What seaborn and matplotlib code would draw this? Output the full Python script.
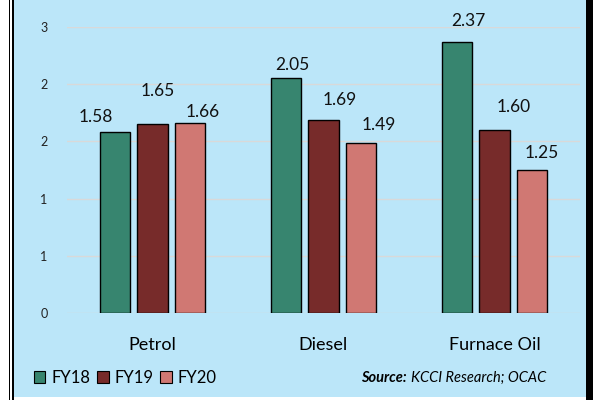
import pandas as pd
import matplotlib.pyplot as plt
import seaborn as sns
from matplotlib.patches import Rectangle, Patch

# datos
fuels = ['Petrol', 'Diesel', 'Furnace Oil']
years = ['FY18', 'FY19', 'FY20']
fy18 = [1.58, 2.05, 2.37]
fy19 = [1.65, 1.69, 1.60]
fy20 = [1.66, 1.49, 1.25]
ytick_vals = [0, 0.5, 1.0, 1.5, 2.0, 2.5]
ytick_labels = ['0', '1', '1', '2', '2', '3']

colores = {'FY18': '#37856F', 'FY19': '#772B2A', 'FY20': '#D07873'}

# tabla larga para seaborn
df = pd.DataFrame({
    'Fuel': fuels * 3,
    'Year': ['FY18'] * 3 + ['FY19'] * 3 + ['FY20'] * 3,
    'Value': fy18 + fy19 + fy20,
})

# desplazamiento de las etiquetas (px) respecto a la parte superior de cada barra
label_dx = {'FY18': [-20, 6, 11], 'FY19': [5, 16, 19], 'FY20': [13, 18, 10]}
label_dy = {'FY18': [15, 13, 21], 'FY19': [33, 20, 23], 'FY20': [11, 18, 17]}

plt.rcParams['font.family'] = ['Lato', 'DejaVu Sans']

fig = plt.figure(figsize=(5.93, 4.0), dpi=100, facecolor='white')

# fondo azul y marco
fig.patches.append(Rectangle((14 / 593, 0.0075), 572 / 593, 1, transform=fig.transFigure,
                             facecolor='#BBE6F9', edgecolor='none', zorder=-10))
fig.patches.append(Rectangle((8.5 / 593, 0), 1.5 / 593, 1, transform=fig.transFigure,
                             facecolor='black', edgecolor='none', zorder=-9))
fig.patches.append(Rectangle((12 / 593, 0), 2 / 593, 1, transform=fig.transFigure,
                             facecolor='black', edgecolor='none', zorder=-9))
fig.patches.append(Rectangle((586 / 593, 0), 7 / 593, 1, transform=fig.transFigure,
                             facecolor='black', edgecolor='none', zorder=-9))

ax = fig.add_axes([67 / 593, 87 / 400, 513 / 593, 286 / 400])
ax.set_facecolor('none')

sns.barplot(data=df, x='Fuel', y='Value', hue='Year', order=fuels, hue_order=years,
            palette=colores, saturation=1, width=0.65, gap=0.19, edgecolor='black',
            linewidth=1, legend=False, ax=ax, zorder=3)

ax.set_ylim(0, 2.5)
ax.set_yticks(ytick_vals)
ax.set_yticklabels(ytick_labels)
ax.grid(axis='y', color='#D9D9D9', linewidth=1, zorder=0)
ax.set_axisbelow(True)
for s in ax.spines.values():
    s.set_visible(False)
ax.tick_params(axis='y', length=0, pad=14, labelsize=9, colors='#222222')
ax.tick_params(axis='x', length=0, pad=17, labelsize=13)
ax.set_xlabel('')
ax.set_ylabel('')

# etiquetas de datos
for cont, year in zip(ax.containers, years):
    for i, bar in enumerate(cont):
        h = bar.get_height()
        ax.annotate(f'{h:.2f}', (bar.get_x() + bar.get_width() / 2, h),
                    xytext=(label_dx[year][i] * 0.72, label_dy[year][i] * 0.72),
                    textcoords='offset points', ha='center', va='center',
                    fontsize=12.5, color='#111111', annotation_clip=False)

# leyenda
handles = [Patch(facecolor=colores[y], edgecolor='black', linewidth=0.8) for y in years]
fig.legend(handles, years, loc='center left', bbox_to_anchor=(27 / 593, 1 - 378 / 400),
           ncol=3, frameon=False, fontsize=12, handlelength=0.7, handleheight=0.7,
           handletextpad=0.35, columnspacing=0.4, borderaxespad=0)

# fuente
t1 = fig.text(361 / 593, 1 - 378 / 400, 'Source:', fontsize=10.5, fontweight='bold',
              fontstyle='italic', ha='left', va='center')
fig.canvas.draw()
bb = t1.get_window_extent()
fig.text((bb.x1 + 4) / 593, 1 - 378 / 400, 'KCCI Research; OCAC', fontsize=10.5,
         fontstyle='italic', ha='left', va='center')

fig.savefig('out.png', dpi=100, facecolor=fig.get_facecolor())
